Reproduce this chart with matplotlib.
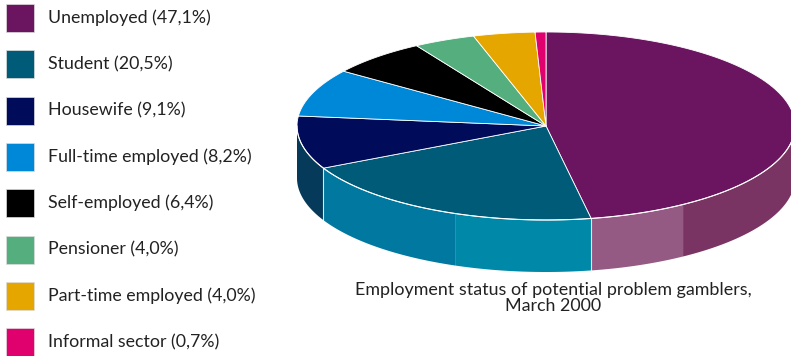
import numpy as np
import matplotlib.pyplot as plt
from matplotlib.patches import Polygon, Rectangle

# Employment status of potential problem gamblers, March 2000
categories = ['Unemployed', 'Student', 'Housewife', 'Full-time employed',
              'Self-employed', 'Pensioner', 'Part-time employed', 'Informal sector']
shares = [47.1, 20.5, 9.1, 8.2, 6.4, 4.0, 4.0, 0.7]
value_labels = ['47,1%', '20,5%', '9,1%', '8,2%', '6,4%', '4,0%', '4,0%', '0,7%']
colors = ['#6b1560', '#005b78', '#000b5a', '#0088d8',
          '#000000', '#55ae7e', '#e6a600', '#e0006e']

plt.rcParams['font.family'] = ['Lato', 'DejaVu Sans']

fig = plt.figure(figsize=(7.91, 3.56), dpi=100)
ax = fig.add_axes([0, 0, 1, 1])
ax.set_xlim(0, 791)
ax.set_ylim(356, 0)
ax.axis('off')

# pie geometry in pixels
cx, cy, rx, ry, depth = 546, 126, 249, 94, 52


def pt(t, dy=0):
    t = np.radians(t)
    return cx + rx * np.cos(t), cy - ry * np.sin(t) + dy


def arc(a0, a1, dy=0, n=120):
    ts = np.linspace(a0, a1, n)
    return [pt(t, dy) for t in ts]


# wedge angles, clockwise from 12 o'clock
fr = np.array(shares) / sum(shares)
edges = 90 - 360 * np.concatenate([[0], np.cumsum(fr)])

# side wall, shaded in facets
b = edges[1]
facets = [(-180, edges[2], '#063a5a'),
          (edges[2], -111.4, '#0078a0'),
          (-111.4, b, '#0088a8'),
          (b, -56.6, '#955a83'),
          (-56.6, 0, '#7a3463')]
for a0, a1, c in facets:
    top = arc(a0, a1)
    bot = arc(a1, a0, depth)
    ax.add_patch(Polygon(top + bot, closed=True, fc=c, ec='none', zorder=1))

for a in [edges[1], edges[2]]:
    x0, y0 = pt(a)
    ax.plot([x0, x0], [y0, y0 + depth], color='white', lw=0.8, alpha=0.8, zorder=2)

# top face
for i in range(len(shares)):
    a0, a1 = edges[i], edges[i + 1]
    poly = [(cx, cy)] + arc(a0, a1)
    ax.add_patch(Polygon(poly, closed=True, fc=colors[i], ec='white',
                         lw=0.6, joinstyle='round', zorder=3))

rim = np.array(arc(-180, 0))
ax.plot(rim[:, 0], rim[:, 1], color='white', lw=0.8, zorder=4)

# legend
for i, (name, lab) in enumerate(zip(categories, value_labels)):
    yc = 18 + i * 46.3
    ax.add_patch(Rectangle((6, yc - 14), 28, 28, fc=colors[i], ec='#dddddd',
                           lw=0.5, zorder=5))
    ax.text(48, yc, f'{name} ({lab})', fontsize=12.8, color='#222222',
            va='center', ha='left', zorder=5)

ax.text(553, 298, 'Employment status of potential problem gamblers,\nMarch 2000',
        fontsize=12.9, color='#222222', ha='center', va='center',
        linespacing=0.95)

fig.savefig('out.png', dpi=100)
